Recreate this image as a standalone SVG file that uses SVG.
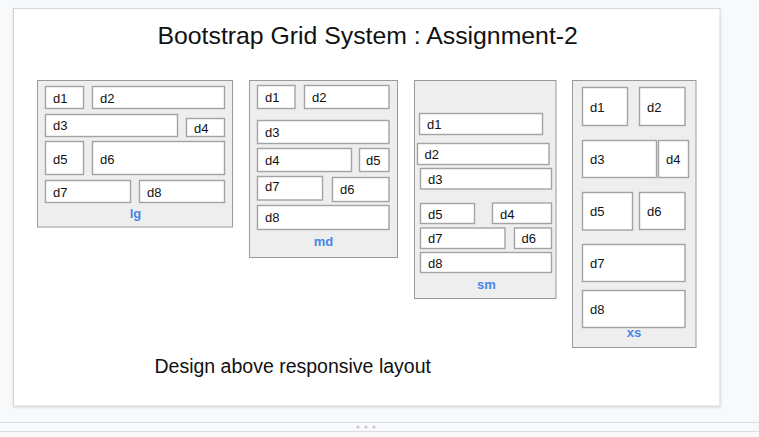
<svg xmlns="http://www.w3.org/2000/svg" width="759" height="437" viewBox="0 0 759 437">
<defs>
<style>
.bg{fill:#f8f9fa}
.slide{fill:#ffffff;stroke:#d6d7d9;stroke-width:1}
.panel{fill:#eeeeee;stroke:#9a9a9a;stroke-width:1}
.box{fill:#ffffff;stroke:#a3a3a3;stroke-width:1.4}
.t{font-family:"Liberation Sans",Arial,sans-serif;font-size:13px;fill:#111111}
.lbl{font-family:"Liberation Sans",Arial,sans-serif;font-size:13px;font-weight:bold;fill:#4a86e8;text-anchor:middle}
.title{font-family:"Liberation Sans",Arial,sans-serif;font-size:24.8px;fill:#111111}
.sub{font-family:"Liberation Sans",Arial,sans-serif;font-size:19.5px;fill:#111111}
.rule{stroke:#dcdde0;stroke-width:1}
.dot{fill:#c8c9cc}
</style>
<filter id="sh" x="-5%" y="-5%" width="110%" height="110%">
<feDropShadow dx="0" dy="1" stdDeviation="1" flood-color="#000" flood-opacity="0.15"/>
</filter>
</defs>
<rect class="bg" x="0" y="0" width="759" height="437"/>
<rect class="slide" x="13.5" y="8.5" width="706.5" height="397.5" filter="url(#sh)"/>
<line class="rule" x1="0" y1="422.5" x2="759" y2="422.5"/>
<line class="rule" x1="0" y1="431.5" x2="759" y2="431.5"/>
<circle class="dot" cx="358" cy="427" r="1.6"/>
<circle class="dot" cx="366" cy="427" r="1.6"/>
<circle class="dot" cx="374" cy="427" r="1.6"/>
<text class="title" x="157.5" y="43.5">Bootstrap Grid System : Assignment-2</text>
<text class="sub" x="154.5" y="372.5">Design above responsive layout</text>

<g id="lg">
<rect class="panel" x="37.5" y="80.5" width="195" height="146.5"/>
<rect class="box" x="45.5" y="86.5" width="38" height="22"/><text class="t" x="53" y="102.5">d1</text>
<rect class="box" x="92.5" y="86.5" width="132" height="22"/><text class="t" x="100" y="102.5">d2</text>
<rect class="box" x="45.5" y="114.5" width="132" height="22"/><text class="t" x="53" y="130">d3</text>
<rect class="box" x="186.5" y="118.5" width="38" height="18"/><text class="t" x="194" y="132.5">d4</text>
<rect class="box" x="45.5" y="141.5" width="38" height="33"/><text class="t" x="53" y="163.5">d5</text>
<rect class="box" x="92.5" y="141.5" width="132" height="33"/><text class="t" x="100" y="163.5">d6</text>
<rect class="box" x="45.5" y="180.5" width="85" height="22"/><text class="t" x="53" y="196.5">d7</text>
<rect class="box" x="139.5" y="180.5" width="85" height="22"/><text class="t" x="147" y="196.5">d8</text>
<text class="lbl" x="135.5" y="218">lg</text>
</g>

<g id="md">
<rect class="panel" x="249.5" y="80.5" width="148" height="177"/>
<rect class="box" x="257.5" y="85.5" width="37.5" height="23"/><text class="t" x="265" y="101.5">d1</text>
<rect class="box" x="304.5" y="85.5" width="84.5" height="23"/><text class="t" x="312" y="101.5">d2</text>
<rect class="box" x="257.5" y="120.5" width="131.5" height="23"/><text class="t" x="265" y="136.5">d3</text>
<rect class="box" x="257.5" y="148.5" width="94" height="23"/><text class="t" x="265" y="165">d4</text>
<rect class="box" x="359.5" y="148.5" width="29.5" height="23"/><text class="t" x="366" y="165">d5</text>
<rect class="box" x="257.5" y="176.5" width="65" height="23.5"/><text class="t" x="265" y="191">d7</text>
<rect class="box" x="332.5" y="177.5" width="56.5" height="24"/><text class="t" x="340" y="194">d6</text>
<rect class="box" x="257.5" y="205.5" width="131.5" height="24"/><text class="t" x="265" y="222">d8</text>
<text class="lbl" x="323.5" y="246">md</text>
</g>

<g id="sm">
<rect class="panel" x="414.5" y="80.5" width="141.5" height="218"/>
<rect class="box" x="419.5" y="113.5" width="123" height="21"/><text class="t" x="427" y="128.5">d1</text>
<rect class="box" x="417.5" y="143.5" width="131.5" height="21"/><text class="t" x="424.5" y="158.5">d2</text>
<rect class="box" x="420.5" y="168.5" width="131" height="20.5"/><text class="t" x="428" y="184">d3</text>
<rect class="box" x="420.5" y="203.5" width="54" height="20"/><text class="t" x="428" y="218.5">d5</text>
<rect class="box" x="492.5" y="203" width="59" height="20.5"/><text class="t" x="500" y="218.5">d4</text>
<rect class="box" x="420.5" y="228" width="84.5" height="20.5"/><text class="t" x="428" y="243">d7</text>
<rect class="box" x="514.5" y="228" width="37" height="20.5"/><text class="t" x="521.5" y="243">d6</text>
<rect class="box" x="420.5" y="252.5" width="131" height="20"/><text class="t" x="428" y="267.5">d8</text>
<text class="lbl" x="486.5" y="288.5">sm</text>
</g>

<g id="xs">
<rect class="panel" x="572.5" y="80.5" width="123.5" height="267"/>
<rect class="box" x="582.5" y="87.5" width="45" height="38"/><text class="t" x="590" y="112">d1</text>
<rect class="box" x="639.5" y="87.5" width="45.5" height="38"/><text class="t" x="647" y="112">d2</text>
<rect class="box" x="582.5" y="140.5" width="74" height="37"/><text class="t" x="590" y="164">d3</text>
<rect class="box" x="658.5" y="140.5" width="30" height="37"/><text class="t" x="666" y="164">d4</text>
<rect class="box" x="582.5" y="192.5" width="50" height="37.5"/><text class="t" x="590" y="216">d5</text>
<rect class="box" x="639.5" y="192.5" width="45.5" height="37"/><text class="t" x="647" y="216">d6</text>
<rect class="box" x="582.5" y="244.5" width="102.5" height="37"/><text class="t" x="590" y="268">d7</text>
<rect class="box" x="582.5" y="290.5" width="102.5" height="37"/><text class="t" x="590" y="314">d8</text>
<text class="lbl" x="634" y="337">xs</text>
</g>
<g id="connectors"/>
</svg>
